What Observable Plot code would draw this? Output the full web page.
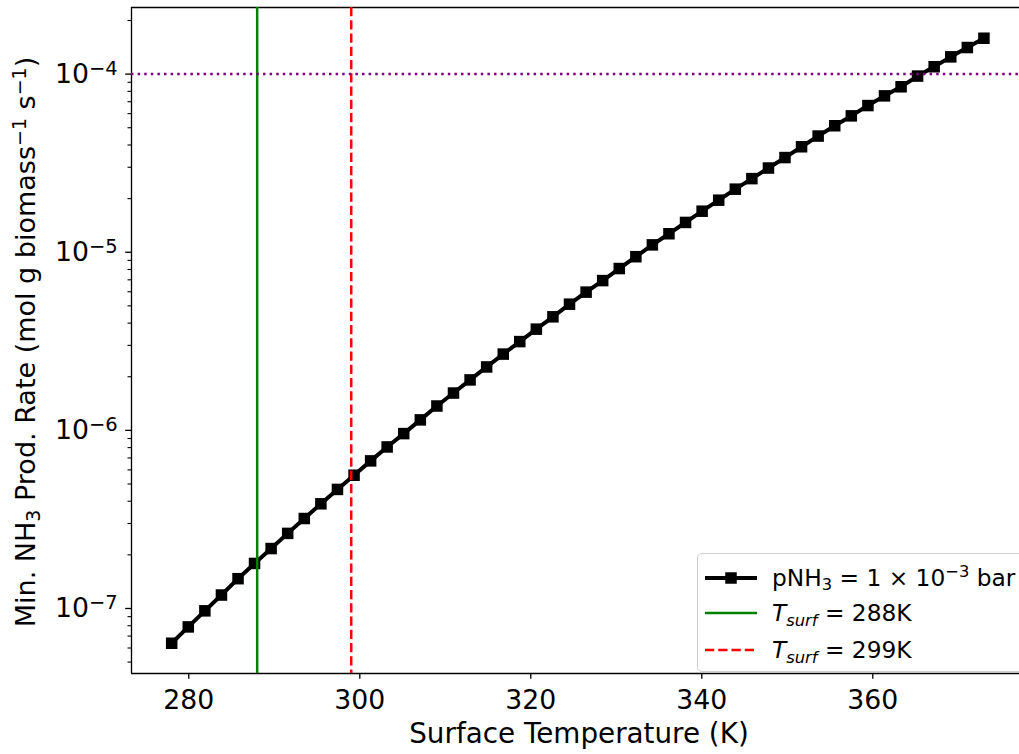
<!DOCTYPE html>
<html>
<head>
<meta charset="utf-8">
<script src="https://cdn.jsdelivr.net/npm/d3@7"></script>
<script src="https://cdn.jsdelivr.net/npm/@observablehq/plot@0.6"></script>
<style>
  html, body { margin: 0; padding: 0; background: white; overflow: hidden; }
  #wrap { position: relative; width: 1019px; height: 754px; overflow: hidden; font-family: "DejaVu Sans", sans-serif; }
  #legend { position: absolute; left: 697px; top: 553px; width: 340px; height: 117px;
    border: 1.33px solid #cccccc; border-radius: 5px; background: rgba(255,255,255,0.8);
    font-family: "DejaVu Sans", sans-serif; font-size: 23.3px; color: black; }
  .row { position: absolute; left: 0; height: 30px; width: 340px; }
  .row svg { position: absolute; left: 6px; top: 0; }
  .row .lab { position: absolute; left: 74px; top: 0; line-height: 30px; white-space: nowrap; }
  .sub { font-size: 70%; position: relative; top: 0.3em; }
  .sup { font-size: 70%; position: relative; top: -0.55em; }
</style>
</head>
<body>
<div id="wrap"></div>
<script>
// ---- data ----
const temps = [278.00, 279.94, 281.88, 283.82, 285.76, 287.69, 289.63, 291.57, 293.51, 295.45,
               297.39, 299.33, 301.27, 303.20, 305.14, 307.08, 309.02, 310.96, 312.90, 314.84,
               316.78, 318.71, 320.65, 322.59, 324.53, 326.47, 328.41, 330.35, 332.29, 334.22,
               336.16, 338.10, 340.04, 341.98, 343.92, 345.86, 347.80, 349.73, 351.67, 353.61,
               355.55, 357.49, 359.43, 361.37, 363.31, 365.24, 367.18, 369.12, 371.06, 373.00];
const rates = [6.38e-8, 7.88e-8, 9.70e-8, 1.19e-7, 1.47e-7, 1.79e-7, 2.17e-7, 2.64e-7, 3.20e-7, 3.87e-7,
               4.66e-7, 5.60e-7, 6.74e-7, 8.07e-7, 9.59e-7, 1.145e-6, 1.37e-6, 1.62e-6, 1.92e-6, 2.27e-6,
               2.68e-6, 3.15e-6, 3.70e-6, 4.34e-6, 5.11e-6, 5.97e-6, 6.93e-6, 8.10e-6, 9.44e-6, 1.10e-5,
               1.27e-5, 1.47e-5, 1.70e-5, 1.96e-5, 2.26e-5, 2.59e-5, 2.97e-5, 3.40e-5, 3.91e-5, 4.49e-5,
               5.13e-5, 5.83e-5, 6.66e-5, 7.55e-5, 8.49e-5, 9.75e-5, 1.10e-4, 1.25e-4, 1.41e-4, 1.59e-4];
const surfTemps = [288, 299];
const threshold = [1e-4];
const xTicks = [280, 300, 320, 340, 360];
const xTickLabels = ["280", "300", "320", "340", "360"];
const yTicks = [1e-7, 1e-6, 1e-5, 1e-4];
const yTickExps = ["−7", "−6", "−5", "−4"];
const minorMult = [2, 3, 4, 5, 6, 7, 8, 9];
const minorDecades = [1e-8, 1e-7, 1e-6, 1e-5, 1e-4];

const xDomain = [273.3, 377.16];
const yDomain = [Math.pow(10, -7.365), Math.pow(10, -3.626)];
const minorTicks = [];
for (const d of minorDecades) for (const m of minorMult) {
  const v = d * m;
  if (v >= yDomain[0] && v <= yDomain[1]) minorTicks.push(v);
}

const data = temps.map((t, i) => ({t, r: rates[i]}));

const chart = Plot.plot({
  width: 1019, height: 754,
  marginLeft: 131, marginRight: 0, marginTop: 7, marginBottom: 81,
  style: {fontFamily: "DejaVu Sans", fontSize: "26.7px", color: "black", background: "white"},
  x: {domain: xDomain},
  y: {type: "log", domain: yDomain},
  marks: [
    Plot.axisX({ticks: xTicks, tickSize: 5.8, tickPadding: 11, strokeWidth: 1.33, label: null,
      tickFormat: d => xTickLabels[xTicks.indexOf(d)]}),
    Plot.axisY({ticks: minorTicks, tickSize: 3.5, strokeWidth: 1.1, label: null, tickFormat: () => ""}),
    Plot.axisY({ticks: yTicks, tickSize: 5.8, tickPadding: 8, strokeWidth: 1.33, label: null,
      tickFormat: d => "10" + yTickExps[yTicks.indexOf(d)]}),
    Plot.ruleX([xDomain[0]], {stroke: "black", strokeWidth: 1.33}),
    Plot.ruleY(yDomain, {stroke: "black", strokeWidth: 1.33}),
    Plot.line(data, {x: "t", y: "r", stroke: "black", strokeWidth: 4}),
    Plot.dot(data, {x: "t", y: "r", symbol: "square", r: 6.5, fill: "black", stroke: "none"}),
    Plot.ruleX([surfTemps[0]], {stroke: "green", strokeWidth: 2.5}),
    Plot.ruleX([surfTemps[1]], {stroke: "red", strokeWidth: 2.5, strokeDasharray: "9.25,4"}),
    Plot.ruleY(threshold, {stroke: "purple", strokeWidth: 2.5, strokeDasharray: "2.5,4.1"})
  ]
});

document.getElementById("wrap").appendChild(chart);
const svg = d3.select(chart);

// superscript exponents on y tick labels
svg.selectAll("text").each(function() {
  const s = this.textContent;
  if (/^10[−-]\d$/.test(s)) {
    const e = s.slice(2);
    const sel = d3.select(this);
    sel.text("10");
    sel.append("tspan").attr("dy", -8).attr("font-size", "19.5px").text(e);
  }
});

// axis labels
svg.append("text")
  .attr("x", 579).attr("y", 743)
  .attr("text-anchor", "middle")
  .attr("font-family", "DejaVu Sans").attr("font-size", "27.8px").attr("fill", "black")
  .text("Surface Temperature (K)");

const yl = svg.append("text")
  .attr("transform", "translate(35,342) rotate(-90)")
  .attr("text-anchor", "middle")
  .attr("font-family", "DejaVu Sans").attr("font-size", "27px").attr("fill", "black");
yl.append("tspan").text("Min. NH");
yl.append("tspan").attr("dy", 5).attr("font-size", "19px").text("3");
yl.append("tspan").attr("dy", -5).text(" Prod. Rate (mol g biomass");
yl.append("tspan").attr("dy", -9).attr("font-size", "19px").text("−1");
yl.append("tspan").attr("dy", 9).text(" s");
yl.append("tspan").attr("dy", -9).attr("font-size", "19px").text("−1");
yl.append("tspan").attr("dy", 9).text(")");

// legend
const legendRows = [
  {html: 'pNH<span class="sub">3</span> = 1 × 10<span class="sup">−3</span> bar', kind: "main"},
  {html: '<i>T</i><span class="sub"><i>surf</i></span> = 288K', kind: "green"},
  {html: '<i>T</i><span class="sub"><i>surf</i></span> = 299K', kind: "red"}
];
const rowTops = [8.5, 44, 81];
const legend = document.createElement("div");
legend.id = "legend";
legendRows.forEach((row, i) => {
  const div = document.createElement("div");
  div.className = "row";
  div.style.top = rowTops[i] + "px";
  let sw = '<svg width="60" height="30">';
  if (row.kind === "main") {
    sw += '<line x1="1" x2="53" y1="15" y2="15" stroke="black" stroke-width="4"/>' +
          '<rect x="21.25" y="9.25" width="11.5" height="11.5" fill="black"/>';
  } else if (row.kind === "green") {
    sw += '<line x1="1" x2="53" y1="15" y2="15" stroke="green" stroke-width="2.5"/>';
  } else {
    sw += '<line x1="1" x2="53" y1="15" y2="15" stroke="red" stroke-width="2.5" stroke-dasharray="9.25,4"/>';
  }
  sw += '</svg>';
  div.innerHTML = sw + '<span class="lab">' + row.html + '</span>';
  legend.appendChild(div);
});
document.getElementById("wrap").appendChild(legend);
</script>
</body>
</html>
